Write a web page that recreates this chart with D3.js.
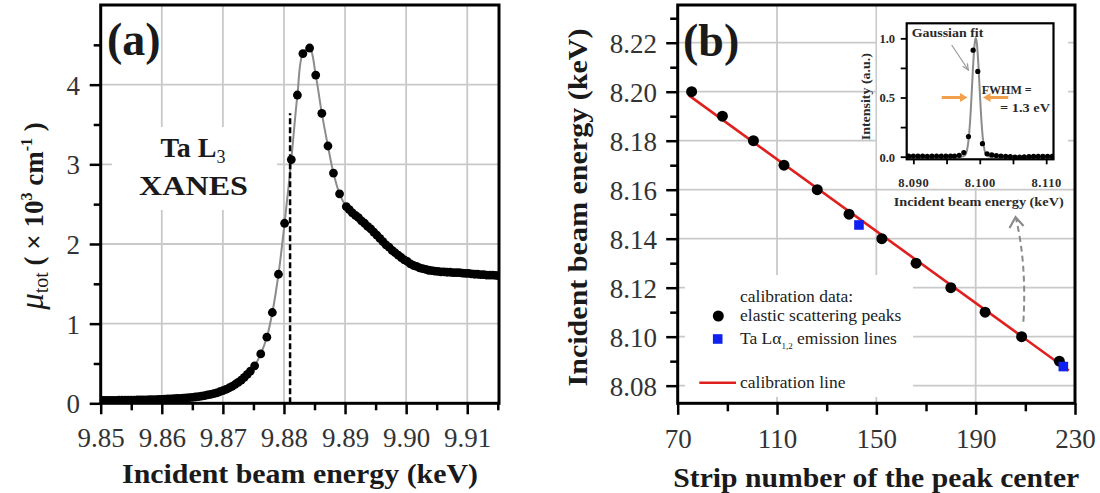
<!DOCTYPE html>
<html>
<head>
<meta charset="utf-8">
<script src="https://cdn.jsdelivr.net/npm/d3@7"></script>
<style>
  body { margin: 0; background: #fff; }
  svg { display: block; }
</style>
</head>
<body>
<svg id="fig" width="1100" height="493"></svg>
<script>
// ---------- Panel (a): Ta L3 XANES, total absorption coefficient ----------
const xanesEnergy = [
  9.8500, 9.8505, 9.8510, 9.8515, 9.8520, 9.8525, 9.8530, 9.8535, 9.8540, 9.8545,
  9.8550, 9.8555, 9.8560, 9.8565, 9.8570, 9.8575, 9.8580, 9.8585, 9.8590, 9.8595,
  9.8600, 9.8605, 9.8610, 9.8615, 9.8620, 9.8625, 9.8630, 9.8635, 9.8640, 9.8645,
  9.8650, 9.8655, 9.8660, 9.8665, 9.8670, 9.8675, 9.8680, 9.8685, 9.8690, 9.8695,
  9.8700, 9.8705, 9.8710, 9.8715, 9.8720, 9.8725, 9.8730, 9.8735, 9.8740, 9.8745,
  9.8752, 9.8762, 9.8772, 9.8781, 9.8791, 9.8801, 9.8812, 9.8822, 9.8831, 9.8842,
  9.8852, 9.8862, 9.8872, 9.8881, 9.8891, 9.8902,
  9.8907, 9.8912, 9.8917, 9.8922, 9.8927, 9.8932, 9.8937, 9.8942, 9.8947, 9.8952,
  9.8957, 9.8962, 9.8967, 9.8972, 9.8977, 9.8982, 9.8987, 9.8992, 9.8997, 9.9002,
  9.9007, 9.9012, 9.9017, 9.9022, 9.9027, 9.9032, 9.9037, 9.9042, 9.9047, 9.9052,
  9.9057, 9.9062, 9.9067, 9.9072, 9.9077, 9.9082, 9.9087, 9.9092, 9.9097, 9.9102,
  9.9107, 9.9112, 9.9117, 9.9122, 9.9127, 9.9132, 9.9137, 9.9142, 9.9147, 9.9152
];
const xanesMu = [
  0.035, 0.035, 0.036, 0.036, 0.037, 0.037, 0.038, 0.038, 0.039, 0.039,
  0.040, 0.041, 0.042, 0.042, 0.043, 0.044, 0.045, 0.046, 0.047, 0.048,
  0.050, 0.052, 0.054, 0.056, 0.058, 0.060, 0.062, 0.064, 0.067, 0.070,
  0.074, 0.079, 0.084, 0.090, 0.097, 0.105, 0.113, 0.122, 0.132, 0.145,
  0.160, 0.175, 0.192, 0.212, 0.236, 0.262, 0.292, 0.326, 0.364, 0.405,
  0.47, 0.62, 0.83, 1.14, 1.62, 2.26, 3.06, 3.87, 4.39, 4.46,
  4.12, 3.64, 3.23, 2.89, 2.63, 2.47,
  2.43, 2.39, 2.36, 2.33, 2.29, 2.26, 2.22, 2.19, 2.15, 2.11,
  2.07, 2.03, 1.99, 1.96, 1.92, 1.89, 1.86, 1.83, 1.80, 1.78,
  1.75, 1.73, 1.72, 1.70, 1.69, 1.68, 1.67, 1.665, 1.66, 1.655,
  1.65, 1.65, 1.645, 1.645, 1.64, 1.64, 1.64, 1.635, 1.63, 1.63,
  1.625, 1.62, 1.62, 1.615, 1.615, 1.61, 1.61, 1.61, 1.605, 1.60
];
const edgePosition = [9.8810];   // dashed marker at the absorption edge
const edgeMarkerTop = [3.64];
const xTicksA = [9.85, 9.86, 9.87, 9.88, 9.89, 9.90, 9.91];
const xTickLabelsA = ["9.85", "9.86", "9.87", "9.88", "9.89", "9.90", "9.91"];
const xMinorA = [9.855, 9.865, 9.875, 9.885, 9.895, 9.905, 9.915];
const yTicksA = [0, 1, 2, 3, 4];
const yMinorA = [0.5, 1.5, 2.5, 3.5, 4.5];

// ---------- Panel (b): energy calibration of the detector strips ----------
const elasticStrip  = [75.6, 88.0, 100.5, 112.8, 126.2, 139.0, 152.2, 166.0, 180.0, 193.8, 208.5, 223.7];
const elasticEnergy = [8.20, 8.19, 8.18, 8.17, 8.16, 8.15, 8.14, 8.13, 8.12, 8.11, 8.10, 8.09];
const emissionStrip  = [143.0, 225.3];
const emissionEnergy = [8.1456, 8.0878];
const calibStrip  = [74.5, 227.5];
const calibEnergy = [8.1985, 8.0862];
const xTicksB = [70, 110, 150, 190, 230];
const xMinorB = [90, 130, 170, 210];
const yTicksB = [8.08, 8.10, 8.12, 8.14, 8.16, 8.18, 8.20, 8.22];
const yMinorB = [8.09, 8.11, 8.13, 8.15, 8.17, 8.19, 8.21, 8.23];

// ---------- Inset: elastic peak at 8.100 keV ----------
const insetEnergy = [
  8.0893, 8.0900, 8.0907, 8.0914, 8.0921, 8.0928, 8.0935, 8.0942, 8.0949, 8.0956,
  8.0962, 8.0969, 8.0976, 8.0983, 8.0990, 8.0997, 8.1004, 8.1011, 8.1018, 8.1025,
  8.1032, 8.1039, 8.1046, 8.1053, 8.1060, 8.1067, 8.1074, 8.1081, 8.1088, 8.1095,
  8.1102, 8.1109
];
const insetIntensity = [
  0.004, 0.005, 0.004, 0.005, 0.003, 0.004, 0.005, 0.004, 0.004, 0.005,
  0.006, 0.012, 0.035, 0.17, 0.90, 0.72, 0.11, 0.025, 0.015, 0.010,
  0.006, 0.003, 0.000, -0.003, -0.004, -0.002, 0.000, 0.002, 0.003, 0.002,
  0.003, 0.002
];
const fitCenter = 8.0994;     // keV
const fitFWHM = 0.0013;       // keV (1.3 eV)
const fitAmplitude = 1.0;
const xTicksI = [8.090, 8.100, 8.110];
const xMinorI = [8.095, 8.105];
const yTicksI = [0.0, 0.5, 1.0];
const yMinorI = [0.25, 0.75];

// ---------- shared styling ----------
const SERIF = '"Liberation Serif", "Times New Roman", serif';
const GRID = "#c9c9c9";
const svg = d3.select("#fig");

function drawAxis(g, gen, values, size, fmt) {
  g.call(gen.tickValues(values).tickSize(size).tickSizeOuter(0).tickFormat(fmt || (() => "")));
  g.select(".domain").remove();
  g.selectAll(".tick line").attr("stroke", "#000").attr("stroke-width", 2.5);
  g.selectAll(".tick text")
    .attr("font-family", SERIF).attr("fill", "#333");
  return g;
}

// =====================================================================
// Panel (a)
// =====================================================================
const ax = d3.scaleLinear().domain([9.85, 9.9152]).range([100.7, 499]);
const ay = d3.scaleLinear().domain([0, 5]).range([403.3, 5]);
const gA = svg.append("g");

gA.append("clipPath").attr("id", "clipA").append("rect")
  .attr("x", ax.range()[0]).attr("y", ay.range()[1])
  .attr("width", ax.range()[1] - ax.range()[0]).attr("height", ay.range()[0] - ay.range()[1]);

// grid
gA.append("g").selectAll("line").data(xTicksA.slice(1)).join("line")
  .attr("x1", d => ax(d)).attr("x2", d => ax(d))
  .attr("y1", ay.range()[0]).attr("y2", ay.range()[1])
  .attr("stroke", GRID).attr("stroke-width", 1.8);
gA.append("g").selectAll("line").data(yTicksA.slice(1)).join("line")
  .attr("y1", d => ay(d)).attr("y2", d => ay(d))
  .attr("x1", ax.range()[0]).attr("x2", ax.range()[1])
  .attr("stroke", GRID).attr("stroke-width", 1.8);

// annotation box
gA.append("rect").attr("x", 112).attr("y", 127).attr("width", 165).attr("height", 83).attr("fill", "#fff");
const tA = gA.append("text").attr("x", 193).attr("y", 157)
  .attr("text-anchor", "middle").attr("font-family", SERIF).attr("font-weight", "bold")
  .attr("font-size", 28).attr("fill", "#1a1a1a");
tA.append("tspan").text("Ta L");
tA.append("tspan").attr("font-size", 18).attr("font-weight", "normal").attr("dy", 6).text("3");
gA.append("text").attr("x", 193.5).attr("y", 195)
  .attr("text-anchor", "middle").attr("font-family", SERIF).attr("font-weight", "bold")
  .attr("font-size", 28).attr("fill", "#1a1a1a").attr("textLength", 109).attr("lengthAdjust", "spacingAndGlyphs")
  .text("XANES");

const xanes = xanesEnergy.map((e, i) => ({ e, mu: xanesMu[i] }));
const plotA = gA.append("g").attr("clip-path", "url(#clipA)");
plotA.append("path").datum(xanes)
  .attr("d", d3.line().x(d => ax(d.e)).y(d => ay(d.mu)).curve(d3.curveCatmullRom))
  .attr("fill", "none").attr("stroke", "#8c8c8c").attr("stroke-width", 2);
plotA.append("g").selectAll("circle").data(xanes).join("circle")
  .attr("cx", d => ax(d.e)).attr("cy", d => ay(d.mu)).attr("r", 4.4).attr("fill", "#000");

gA.append("line")
  .attr("x1", ax(edgePosition[0])).attr("x2", ax(edgePosition[0]))
  .attr("y1", ay(0)).attr("y2", ay(edgeMarkerTop[0]))
  .attr("stroke", "#000").attr("stroke-width", 2.5).attr("stroke-dasharray", "6,3");

// frame
gA.append("rect").attr("x", ax.range()[0]).attr("y", ay.range()[1])
  .attr("width", ax.range()[1] - ax.range()[0]).attr("height", ay.range()[0] - ay.range()[1])
  .attr("fill", "none").attr("stroke", "#000").attr("stroke-width", 3);

// axes
drawAxis(gA.append("g").attr("transform", `translate(0,${ay.range()[0]})`), d3.axisBottom(ax), xMinorA, 7);
const axA = drawAxis(gA.append("g").attr("transform", `translate(0,${ay.range()[0]})`),
  d3.axisBottom(ax), xTicksA, 11, (d, i) => xTickLabelsA[i]);
axA.selectAll(".tick text").attr("y", 43.7).attr("dy", 0).attr("font-size", 27);
drawAxis(gA.append("g").attr("transform", `translate(${ax.range()[0]},0)`), d3.axisLeft(ay), yMinorA, 7);
const ayA = drawAxis(gA.append("g").attr("transform", `translate(${ax.range()[0]},0)`),
  d3.axisLeft(ay), yTicksA, 11, d3.format("d"));
ayA.selectAll(".tick text").attr("x", -20.7).attr("dy", "0.35em").attr("font-size", 27);

// titles
gA.append("text").attr("x", 300).attr("y", 483.3).attr("text-anchor", "middle")
  .attr("font-family", SERIF).attr("font-weight", "bold").attr("font-size", 28).attr("fill", "#1a1a1a")
  .attr("textLength", 356).attr("lengthAdjust", "spacingAndGlyphs")
  .text("Incident beam energy (keV)");
const yTitleA = gA.append("text").attr("transform", "translate(43,216) rotate(-90)")
  .attr("text-anchor", "middle").attr("font-family", SERIF).attr("fill", "#1a1a1a").attr("font-size", 27);
yTitleA.append("tspan").attr("font-style", "italic").attr("font-size", 33).text("μ");
yTitleA.append("tspan").attr("font-size", 20).attr("dy", 5).text("tot");
yTitleA.append("tspan").attr("font-weight", "bold").attr("dy", -5).text(" ( × 10");
yTitleA.append("tspan").attr("font-weight", "bold").attr("font-size", 16).attr("dy", -11).text("3");
yTitleA.append("tspan").attr("font-weight", "bold").attr("dy", 11).text(" cm");
yTitleA.append("tspan").attr("font-weight", "bold").attr("font-size", 16).attr("dy", -11).text("-1");
yTitleA.append("tspan").attr("font-weight", "bold").attr("dy", 11).text(" )");

gA.append("text").attr("x", 107).attr("y", 55).attr("font-family", SERIF).attr("font-weight", "bold")
  .attr("font-size", 46).attr("fill", "#1a1a1a").text("(a)");

// =====================================================================
// Panel (b)
// =====================================================================
const bx = d3.scaleLinear().domain([70, 230]).range([677.7, 1075]);
const by = d3.scaleLinear().domain([8.0728, 8.2354]).range([403.3, 5]);
const gB = svg.append("g");

gB.append("g").selectAll("line").data(xTicksB.slice(1, -1)).join("line")
  .attr("x1", d => bx(d)).attr("x2", d => bx(d))
  .attr("y1", by.range()[0]).attr("y2", by.range()[1])
  .attr("stroke", GRID).attr("stroke-width", 1.8);
gB.append("g").selectAll("line").data(yTicksB).join("line")
  .attr("y1", d => by(d)).attr("y2", d => by(d))
  .attr("x1", bx.range()[0]).attr("x2", bx.range()[1])
  .attr("stroke", GRID).attr("stroke-width", 1.8);

// legend and inset backgrounds
gB.append("rect").attr("x", 685).attr("y", 275).attr("width", 228).attr("height", 122).attr("fill", "#fff");
gB.append("rect").attr("x", 877).attr("y", 5).attr("width", 191).attr("height", 183).attr("fill", "#fff");

// calibration line and data
gB.append("line")
  .attr("x1", bx(calibStrip[0])).attr("y1", by(calibEnergy[0]))
  .attr("x2", bx(calibStrip[1])).attr("y2", by(calibEnergy[1]))
  .attr("stroke", "#e0201e").attr("stroke-width", 2.6);
gB.append("g").selectAll("circle").data(elasticStrip).join("circle")
  .attr("cx", d => bx(d)).attr("cy", (d, i) => by(elasticEnergy[i])).attr("r", 5.5).attr("fill", "#000");
const SQ = 9.6;
gB.append("g").selectAll("rect").data(emissionStrip).join("rect")
  .attr("x", d => bx(d) - SQ / 2).attr("y", (d, i) => by(emissionEnergy[i]) - SQ / 2)
  .attr("width", SQ).attr("height", SQ).attr("fill", "#1020f0");

// dashed pointer from the 8.10 keV point to the inset
const arrowPts = [[209.2, 8.1061], [210.6, 8.1290], [206.3, 8.1480]];
gB.append("path")
  .attr("d", `M${bx(arrowPts[0][0])},${by(arrowPts[0][1])} Q${bx(arrowPts[1][0])},${by(arrowPts[1][1])} ${bx(arrowPts[2][0])},${by(arrowPts[2][1])}`)
  .attr("fill", "none").attr("stroke", "#8a8a8a").attr("stroke-width", 2).attr("stroke-dasharray", "6,4");
{
  const tx = bx(arrowPts[2][0]) - 0.6, ty = by(arrowPts[2][1]) - 2;
  gB.append("path").attr("d", `M${tx - 6},${ty + 11} L${tx},${ty} L${tx + 8},${ty + 9}`)
    .attr("fill", "none").attr("stroke", "#8a8a8a").attr("stroke-width", 2.2);
}

// frame
gB.append("rect").attr("x", bx.range()[0]).attr("y", by.range()[1])
  .attr("width", bx.range()[1] - bx.range()[0]).attr("height", by.range()[0] - by.range()[1])
  .attr("fill", "none").attr("stroke", "#000").attr("stroke-width", 3);

drawAxis(gB.append("g").attr("transform", `translate(0,${by.range()[0]})`), d3.axisBottom(bx), xMinorB, 8);
const axB = drawAxis(gB.append("g").attr("transform", `translate(0,${by.range()[0]})`),
  d3.axisBottom(bx), xTicksB, 11.5, d3.format("d"));
axB.selectAll(".tick text").attr("y", 44.5).attr("dy", 0).attr("font-size", 27);
drawAxis(gB.append("g").attr("transform", `translate(${bx.range()[0]},0)`), d3.axisLeft(by), yMinorB, 7.5);
const ayB = drawAxis(gB.append("g").attr("transform", `translate(${bx.range()[0]},0)`),
  d3.axisLeft(by), yTicksB, 11.5, d3.format(".2f"));
ayB.selectAll(".tick text").attr("x", -20.7).attr("dy", "0.35em").attr("font-size", 27);

gB.append("text").attr("x", 876.3).attr("y", 487).attr("text-anchor", "middle")
  .attr("font-family", SERIF).attr("font-weight", "bold").attr("font-size", 28).attr("fill", "#1a1a1a")
  .attr("textLength", 406).attr("lengthAdjust", "spacingAndGlyphs")
  .text("Strip number of the peak center");
gB.append("text").attr("transform", "translate(586.7,207.5) rotate(-90)").attr("text-anchor", "middle")
  .attr("font-family", SERIF).attr("font-weight", "bold").attr("font-size", 28).attr("fill", "#1a1a1a")
  .attr("textLength", 358).attr("lengthAdjust", "spacingAndGlyphs")
  .text("Incident beam energy (keV)");
gB.append("text").attr("x", 683).attr("y", 56).attr("font-family", SERIF).attr("font-weight", "bold")
  .attr("font-size", 46).attr("fill", "#1a1a1a").text("(b)");

// legend
const lg = gB.append("g").attr("font-family", SERIF).attr("font-size", 17.5).attr("fill", "#222");
lg.append("text").attr("x", 740).attr("y", 301.5).text("calibration data:");
lg.append("circle").attr("cx", 718.3).attr("cy", 316).attr("r", 5.5).attr("fill", "#000");
lg.append("text").attr("x", 740).attr("y", 321).text("elastic scattering peaks");
lg.append("rect").attr("x", 717.7 - SQ / 2).attr("y", 339 - SQ / 2).attr("width", SQ).attr("height", SQ).attr("fill", "#1020f0");
const lgT = lg.append("text").attr("x", 740).attr("y", 344);
lgT.append("tspan").text("Ta Lα");
lgT.append("tspan").attr("font-size", 9).attr("dy", 5).text("1,2");
lgT.append("tspan").attr("dy", -5).text(" emission lines");
lg.append("line").attr("x1", 699.3).attr("x2", 736).attr("y1", 382.7).attr("y2", 382.7)
  .attr("stroke", "#e0201e").attr("stroke-width", 2.6);
lg.append("text").attr("x", 740).attr("y", 387.5).text("calibration line");

// =====================================================================
// Inset
// =====================================================================
const ix = d3.scaleLinear().domain([8.0890, 8.1111]).range([906.7, 1053.5]);
const iy = d3.scaleLinear().domain([-0.022, 1.127]).range([159.3, 23.3]);
const gI = svg.append("g");
gI.append("clipPath").attr("id", "clipI").append("rect")
  .attr("x", ix.range()[0]).attr("y", iy.range()[1])
  .attr("width", ix.range()[1] - ix.range()[0]).attr("height", iy.range()[0] - iy.range()[1]);

const sigma = fitFWHM / (2 * Math.sqrt(2 * Math.log(2)));
const fitE = d3.range(ix.domain()[0], ix.domain()[1], 0.00005);
const fitCurve = fitE.map(e => ({ e, v: fitAmplitude * Math.exp(-0.5 * ((e - fitCenter) / sigma) ** 2) }));
const plotI = gI.append("g").attr("clip-path", "url(#clipI)");
plotI.append("path").datum(fitCurve)
  .attr("d", d3.line().x(d => ix(d.e)).y(d => iy(d.v)))
  .attr("fill", "none").attr("stroke", "#8c8c8c").attr("stroke-width", 2);
plotI.append("g").selectAll("circle").data(insetEnergy).join("circle")
  .attr("cx", d => ix(d)).attr("cy", (d, i) => iy(insetIntensity[i])).attr("r", 2.6).attr("fill", "#000");

gI.append("rect").attr("x", ix.range()[0]).attr("y", iy.range()[1])
  .attr("width", ix.range()[1] - ix.range()[0]).attr("height", iy.range()[0] - iy.range()[1])
  .attr("fill", "none").attr("stroke", "#000").attr("stroke-width", 2.2);

function insetAxis(g) {
  g.selectAll(".tick line").attr("stroke-width", 1.8);
  g.selectAll(".tick text").attr("font-size", 12.5).attr("font-weight", "bold").attr("fill", "#2a2a2a");
  return g;
}
insetAxis(drawAxis(gI.append("g").attr("transform", `translate(0,${iy.range()[0]})`), d3.axisBottom(ix), xMinorI, 5));
const axI = insetAxis(drawAxis(gI.append("g").attr("transform", `translate(0,${iy.range()[0]})`),
  d3.axisBottom(ix), xTicksI, 5, d3.format(".3f")));
axI.selectAll(".tick text").attr("y", 28).attr("dy", 0).attr("letter-spacing", 0.6);
insetAxis(drawAxis(gI.append("g").attr("transform", `translate(${ix.range()[0]},0)`), d3.axisLeft(iy), yMinorI, 6));
const ayI = insetAxis(drawAxis(gI.append("g").attr("transform", `translate(${ix.range()[0]},0)`),
  d3.axisLeft(iy), yTicksI, 6, d3.format(".1f")));
ayI.selectAll(".tick text").attr("x", -11.7).attr("dy", "0.35em");

gI.append("text").attr("x", 978.7).attr("y", 206).attr("text-anchor", "middle")
  .attr("font-family", SERIF).attr("font-weight", "bold").attr("font-size", 13.5).attr("fill", "#2a2a2a")
  .attr("textLength", 170).attr("lengthAdjust", "spacingAndGlyphs")
  .text("Incident beam energy (keV)");
gI.append("text").attr("transform", "translate(870,96.7) rotate(-90)").attr("text-anchor", "middle")
  .attr("font-family", SERIF).attr("font-weight", "bold").attr("font-size", 13.5).attr("fill", "#2a2a2a")
  .attr("textLength", 87).attr("lengthAdjust", "spacingAndGlyphs")
  .text("Intensity (a.u.)");

gI.append("text").attr("x", 911.7).attr("y", 36.5)
  .attr("font-family", SERIF).attr("font-weight", "bold").attr("font-size", 13.5).attr("fill", "#2a2a2a")
  .attr("textLength", 71.6).attr("lengthAdjust", "spacingAndGlyphs").text("Gaussian fit");
// pointer from the label to the fitted curve
gI.append("line").attr("x1", 951.7).attr("y1", 45).attr("x2", 968.3).attr("y2", 70)
  .attr("stroke", "#9a9a9a").attr("stroke-width", 1.2);
gI.append("path").attr("d", "M962.6,66.2 L968.3,70 L967.4,63.3")
  .attr("fill", "none").attr("stroke", "#9a9a9a").attr("stroke-width", 1.2);

gI.append("text").attr("x", 981.7).attr("y", 94)
  .attr("font-family", SERIF).attr("font-weight", "bold").attr("font-size", 13.5).attr("fill", "#2a2a2a")
  .attr("textLength", 50).attr("lengthAdjust", "spacingAndGlyphs").text("FWHM =");
gI.append("text").attr("x", 1000).attr("y", 112)
  .attr("font-family", SERIF).attr("font-weight", "bold").attr("font-size", 13.5).attr("fill", "#2a2a2a")
  .attr("textLength", 50).attr("lengthAdjust", "spacingAndGlyphs").text("= 1.3 eV");

// orange FWHM arrows at half maximum
const halfY = iy(fitAmplitude / 2);
const ORANGE = "#f2a04a";
gI.append("line").attr("x1", 941.7).attr("x2", 962).attr("y1", halfY).attr("y2", halfY)
  .attr("stroke", ORANGE).attr("stroke-width", 3);
gI.append("path").attr("d", `M960,${halfY - 4.5} L967.5,${halfY} L960,${halfY + 4.5} Z`).attr("fill", ORANGE);
gI.append("line").attr("x1", 1008.3).attr("x2", 988.5).attr("y1", halfY).attr("y2", halfY)
  .attr("stroke", ORANGE).attr("stroke-width", 3);
gI.append("path").attr("d", `M990.5,${halfY - 4.5} L983,${halfY} L990.5,${halfY + 4.5} Z`).attr("fill", ORANGE);
</script>
</body>
</html>
